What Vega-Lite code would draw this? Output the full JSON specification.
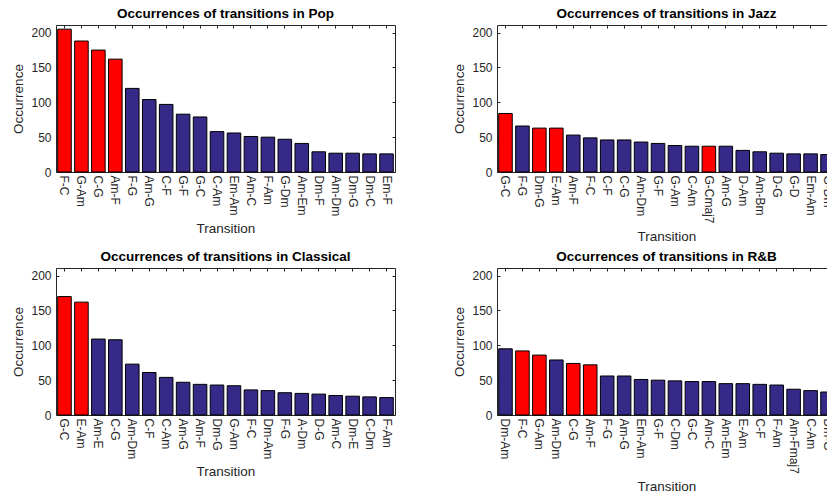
{
  "$schema": "https://vega.github.io/schema/vega-lite/v6.json",
  "padding": {"left": 11, "top": 6, "right": 0, "bottom": 0},
  "background": "white",
  "datasets": {
    "pop": [
      {"transition": "F-C", "count": 205, "highlight": "yes"},
      {"transition": "G-Am", "count": 188, "highlight": "yes"},
      {"transition": "C-G", "count": 175, "highlight": "yes"},
      {"transition": "Am-F", "count": 162, "highlight": "yes"},
      {"transition": "F-G", "count": 120, "highlight": "no"},
      {"transition": "Am-G", "count": 104, "highlight": "no"},
      {"transition": "C-F", "count": 97, "highlight": "no"},
      {"transition": "G-F", "count": 83, "highlight": "no"},
      {"transition": "G-C", "count": 79, "highlight": "no"},
      {"transition": "C-Am", "count": 58, "highlight": "no"},
      {"transition": "Em-Am", "count": 56, "highlight": "no"},
      {"transition": "Am-C", "count": 51, "highlight": "no"},
      {"transition": "F-Am", "count": 50, "highlight": "no"},
      {"transition": "G-Dm", "count": 47, "highlight": "no"},
      {"transition": "Am-Em", "count": 41, "highlight": "no"},
      {"transition": "Dm-F", "count": 29, "highlight": "no"},
      {"transition": "Am-Dm", "count": 27, "highlight": "no"},
      {"transition": "Dm-G", "count": 27, "highlight": "no"},
      {"transition": "Dm-C", "count": 26, "highlight": "no"},
      {"transition": "Em-F", "count": 26, "highlight": "no"}
    ],
    "jazz": [
      {"transition": "G-C", "count": 84, "highlight": "yes"},
      {"transition": "F-G", "count": 66, "highlight": "no"},
      {"transition": "Dm-G", "count": 63, "highlight": "yes"},
      {"transition": "E-Am", "count": 63, "highlight": "yes"},
      {"transition": "Am-F", "count": 53, "highlight": "no"},
      {"transition": "F-C", "count": 49, "highlight": "no"},
      {"transition": "C-F", "count": 46, "highlight": "no"},
      {"transition": "C-G", "count": 46, "highlight": "no"},
      {"transition": "Am-Dm", "count": 43, "highlight": "no"},
      {"transition": "G-F", "count": 41, "highlight": "no"},
      {"transition": "G-Am", "count": 38, "highlight": "no"},
      {"transition": "C-Am", "count": 37, "highlight": "no"},
      {"transition": "G-Cmaj7", "count": 37, "highlight": "yes"},
      {"transition": "Am-G", "count": 37, "highlight": "no"},
      {"transition": "D-Am", "count": 31, "highlight": "no"},
      {"transition": "Am-Bm", "count": 29, "highlight": "no"},
      {"transition": "D-G", "count": 27, "highlight": "no"},
      {"transition": "G-D", "count": 26, "highlight": "no"},
      {"transition": "Em-Am", "count": 26, "highlight": "no"},
      {"transition": "G-Dm", "count": 25, "highlight": "no"}
    ],
    "classical": [
      {"transition": "G-C", "count": 170, "highlight": "yes"},
      {"transition": "E-Am", "count": 162, "highlight": "yes"},
      {"transition": "Am-E", "count": 109, "highlight": "no"},
      {"transition": "C-G", "count": 108, "highlight": "no"},
      {"transition": "Am-Dm", "count": 73, "highlight": "no"},
      {"transition": "C-F", "count": 61, "highlight": "no"},
      {"transition": "C-Am", "count": 54, "highlight": "no"},
      {"transition": "Am-G", "count": 47, "highlight": "no"},
      {"transition": "Am-F", "count": 44, "highlight": "no"},
      {"transition": "Dm-G", "count": 43, "highlight": "no"},
      {"transition": "G-Am", "count": 42, "highlight": "no"},
      {"transition": "F-C", "count": 36, "highlight": "no"},
      {"transition": "Dm-Am", "count": 35, "highlight": "no"},
      {"transition": "F-G", "count": 32, "highlight": "no"},
      {"transition": "A-Dm", "count": 31, "highlight": "no"},
      {"transition": "D-G", "count": 30, "highlight": "no"},
      {"transition": "Am-C", "count": 28, "highlight": "no"},
      {"transition": "Dm-E", "count": 27, "highlight": "no"},
      {"transition": "C-Dm", "count": 26, "highlight": "no"},
      {"transition": "F-Am", "count": 25, "highlight": "no"}
    ],
    "rnb": [
      {"transition": "Dm-Am", "count": 95, "highlight": "no"},
      {"transition": "F-C", "count": 92, "highlight": "yes"},
      {"transition": "G-Am", "count": 86, "highlight": "yes"},
      {"transition": "Am-Dm", "count": 79, "highlight": "no"},
      {"transition": "C-G", "count": 74, "highlight": "yes"},
      {"transition": "Am-F", "count": 72, "highlight": "yes"},
      {"transition": "F-G", "count": 56, "highlight": "no"},
      {"transition": "Am-G", "count": 56, "highlight": "no"},
      {"transition": "Em-Am", "count": 51, "highlight": "no"},
      {"transition": "G-F", "count": 50, "highlight": "no"},
      {"transition": "C-Dm", "count": 49, "highlight": "no"},
      {"transition": "G-C", "count": 48, "highlight": "no"},
      {"transition": "Am-C", "count": 48, "highlight": "no"},
      {"transition": "Am-Em", "count": 45, "highlight": "no"},
      {"transition": "E-Am", "count": 45, "highlight": "no"},
      {"transition": "C-F", "count": 44, "highlight": "no"},
      {"transition": "F-Am", "count": 43, "highlight": "no"},
      {"transition": "Am-Fmaj7", "count": 37, "highlight": "no"},
      {"transition": "C-Am", "count": 35, "highlight": "no"},
      {"transition": "Dm-G", "count": 33, "highlight": "no"}
    ]
  },
  "columns": 2,
  "spacing": {"column": 56, "row": 5},
  "concat": [
    {
      "data": {"name": "pop"},
      "title": {"text": "Occurrences of transitions in Pop"},
      "width": 339, "height": 147,
      "layer": [
        {
          "mark": {"type": "bar", "stroke": "#000000", "strokeWidth": 1},
          "encoding": {
            "x": {"field": "transition", "type": "nominal", "sort": null, "scale": {"paddingInner": 0.2, "paddingOuter": 0.1}, "axis": {"title": "Transition", "labelAngle": 90, "tickSize": -3, "labelPadding": 6, "titlePadding": 6}},
            "y": {"field": "count", "type": "quantitative", "scale": {"domain": [0, 211], "nice": false}, "axis": {"title": "Occurrence", "values": [0, 50, 100, 150, 200], "tickSize": -3, "labelPadding": 8, "titlePadding": 5}},
            "color": {"field": "highlight", "type": "nominal", "scale": {"domain": ["yes", "no"], "range": ["#FF0000", "#352A87"]}, "legend": null}
          }
        },
        {
          "mark": {"type": "bar", "opacity": 0},
          "encoding": {
            "x": {"field": "transition", "type": "nominal", "sort": null, "scale": {"paddingInner": 0.2, "paddingOuter": 0.1}, "axis": {"orient": "top", "title": null, "labels": false, "tickSize": -3}},
            "y": {"field": "count", "type": "quantitative", "scale": {"domain": [0, 211], "nice": false}, "axis": {"orient": "right", "title": null, "labels": false, "values": [0, 50, 100, 150, 200], "tickSize": -3}}
          }
        }
      ],
      "resolve": {"axis": {"x": "independent", "y": "independent"}}
    },
    {
      "data": {"name": "jazz"},
      "title": {"text": "Occurrences of transitions in Jazz"},
      "width": 339, "height": 147,
      "layer": [
        {
          "mark": {"type": "bar", "stroke": "#000000", "strokeWidth": 1},
          "encoding": {
            "x": {"field": "transition", "type": "nominal", "sort": null, "scale": {"paddingInner": 0.2, "paddingOuter": 0.1}, "axis": {"title": "Transition", "labelAngle": 90, "tickSize": -3, "labelPadding": 6, "titlePadding": 6}},
            "y": {"field": "count", "type": "quantitative", "scale": {"domain": [0, 211], "nice": false}, "axis": {"title": "Occurrence", "values": [0, 50, 100, 150, 200], "tickSize": -3, "labelPadding": 8, "titlePadding": 5}},
            "color": {"field": "highlight", "type": "nominal", "scale": {"domain": ["yes", "no"], "range": ["#FF0000", "#352A87"]}, "legend": null}
          }
        },
        {
          "mark": {"type": "bar", "opacity": 0},
          "encoding": {
            "x": {"field": "transition", "type": "nominal", "sort": null, "scale": {"paddingInner": 0.2, "paddingOuter": 0.1}, "axis": {"orient": "top", "title": null, "labels": false, "tickSize": -3}},
            "y": {"field": "count", "type": "quantitative", "scale": {"domain": [0, 211], "nice": false}, "axis": {"orient": "right", "title": null, "labels": false, "values": [0, 50, 100, 150, 200], "tickSize": -3}}
          }
        }
      ],
      "resolve": {"axis": {"x": "independent", "y": "independent"}}
    },
    {
      "data": {"name": "classical"},
      "title": {"text": "Occurrences of transitions in Classical"},
      "width": 339, "height": 147,
      "layer": [
        {
          "mark": {"type": "bar", "stroke": "#000000", "strokeWidth": 1},
          "encoding": {
            "x": {"field": "transition", "type": "nominal", "sort": null, "scale": {"paddingInner": 0.2, "paddingOuter": 0.1}, "axis": {"title": "Transition", "labelAngle": 90, "tickSize": -3, "labelPadding": 6, "titlePadding": 6}},
            "y": {"field": "count", "type": "quantitative", "scale": {"domain": [0, 211], "nice": false}, "axis": {"title": "Occurrence", "values": [0, 50, 100, 150, 200], "tickSize": -3, "labelPadding": 8, "titlePadding": 5}},
            "color": {"field": "highlight", "type": "nominal", "scale": {"domain": ["yes", "no"], "range": ["#FF0000", "#352A87"]}, "legend": null}
          }
        },
        {
          "mark": {"type": "bar", "opacity": 0},
          "encoding": {
            "x": {"field": "transition", "type": "nominal", "sort": null, "scale": {"paddingInner": 0.2, "paddingOuter": 0.1}, "axis": {"orient": "top", "title": null, "labels": false, "tickSize": -3}},
            "y": {"field": "count", "type": "quantitative", "scale": {"domain": [0, 211], "nice": false}, "axis": {"orient": "right", "title": null, "labels": false, "values": [0, 50, 100, 150, 200], "tickSize": -3}}
          }
        }
      ],
      "resolve": {"axis": {"x": "independent", "y": "independent"}}
    },
    {
      "data": {"name": "rnb"},
      "title": {"text": "Occurrences of transitions in R&B"},
      "width": 339, "height": 147,
      "layer": [
        {
          "mark": {"type": "bar", "stroke": "#000000", "strokeWidth": 1},
          "encoding": {
            "x": {"field": "transition", "type": "nominal", "sort": null, "scale": {"paddingInner": 0.2, "paddingOuter": 0.1}, "axis": {"title": "Transition", "labelAngle": 90, "tickSize": -3, "labelPadding": 6, "titlePadding": 6}},
            "y": {"field": "count", "type": "quantitative", "scale": {"domain": [0, 211], "nice": false}, "axis": {"title": "Occurrence", "values": [0, 50, 100, 150, 200], "tickSize": -3, "labelPadding": 8, "titlePadding": 5}},
            "color": {"field": "highlight", "type": "nominal", "scale": {"domain": ["yes", "no"], "range": ["#FF0000", "#352A87"]}, "legend": null}
          }
        },
        {
          "mark": {"type": "bar", "opacity": 0},
          "encoding": {
            "x": {"field": "transition", "type": "nominal", "sort": null, "scale": {"paddingInner": 0.2, "paddingOuter": 0.1}, "axis": {"orient": "top", "title": null, "labels": false, "tickSize": -3}},
            "y": {"field": "count", "type": "quantitative", "scale": {"domain": [0, 211], "nice": false}, "axis": {"orient": "right", "title": null, "labels": false, "values": [0, 50, 100, 150, 200], "tickSize": -3}}
          }
        }
      ],
      "resolve": {"axis": {"x": "independent", "y": "independent"}}
    }
  ],
  "config": {
    "view": {"stroke": "#262626", "strokeWidth": 1},
    "font": "Liberation Sans",
    "title": {"font": "Liberation Sans", "fontSize": 13.5, "fontWeight": "bold", "color": "#000000", "frame": "group", "anchor": "middle", "offset": 4},
    "axis": {"labelFont": "Liberation Sans", "titleFont": "Liberation Sans", "labelFontSize": 12, "titleFontSize": 13.5, "titleFontWeight": "normal", "labelColor": "#262626", "titleColor": "#262626", "tickColor": "#262626", "grid": false, "domain": false}
  }
}
